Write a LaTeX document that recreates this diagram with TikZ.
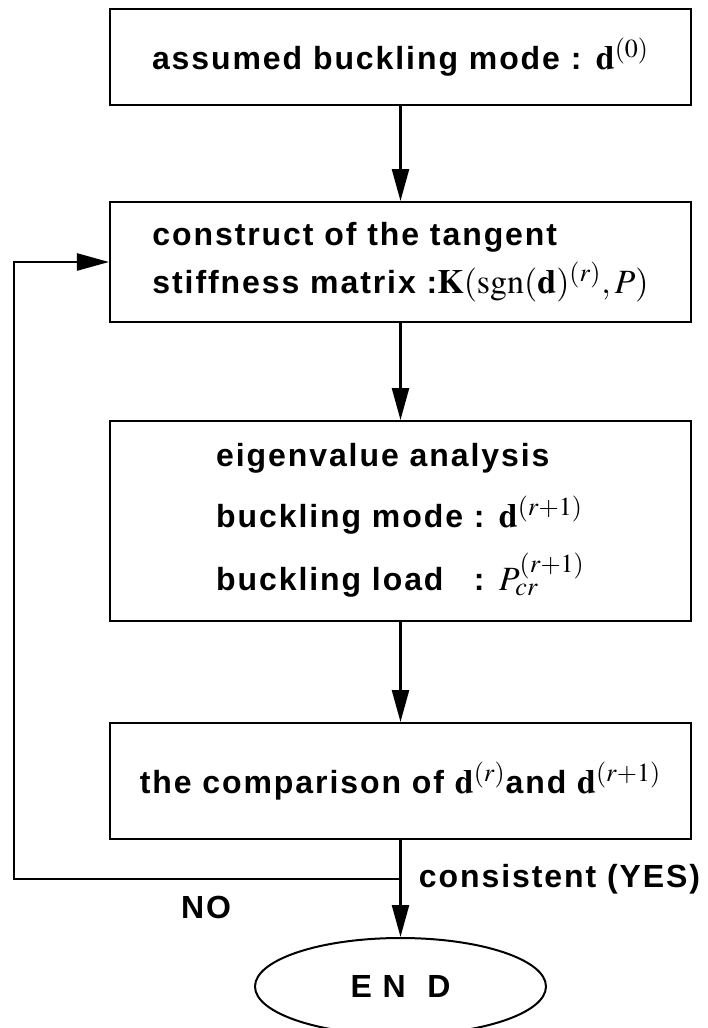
\documentclass[tikz,border=0pt]{standalone}
\usepackage{mathptmx}
\usepackage[no-math]{fontspec}
\setmainfont{Liberation Sans}[LetterSpace=6]
\DeclareMathSizes{16}{17}{13}{10}
\usetikzlibrary{arrows.meta,positioning,calc,shapes.geometric}

\begin{document}
\begin{tikzpicture}[font=\fontsize{16}{19}\selectfont\bfseries,
  bx/.style={draw,line width=1pt,minimum width=290.5pt,align=left,inner sep=4pt},
  ar/.style={-{Triangle[length=16pt,width=8.5pt]},line width=1.2pt}]
\useasboundingbox (-200.25pt,28.5pt) rectangle (153.25pt,-485.5pt);
\node[bx,minimum height=48pt] (asm) at (0,0) {assumed buckling mode : $\mathbf{d}^{(0)}$};
\node[bx,minimum height=60pt,below=47.5pt of asm] (tan) {construct of the tangent\\[4pt]stiffness matrix :$\mathbf{K}(\mathrm{sgn}(\mathbf{d})^{(r)},P)$};
\node[bx,minimum height=100pt,below=48.5pt of tan] (eig) {\begin{tabular}{@{}l@{}l@{}}
  \multicolumn{2}{@{}l@{}}{eigenvalue analysis}\\[9pt]
  buckling mode & ~: $\mathbf{d}^{(r+1)}$\\[7pt]
  buckling load & ~: $P_{cr}^{(r+1)}$
  \end{tabular}};
\node[bx,minimum height=58pt,below=50pt of eig] (cmp) {the comparison of $\mathbf{d}^{(r)}$and $\mathbf{d}^{(r+1)}$};
\node[draw,ellipse,line width=1pt,minimum width=145.5pt,minimum height=48.5pt,inner sep=0pt,below=48.5pt of cmp] (fin) {E N \ D};
\coordinate (j) at ($(cmp.south)+(0,-19.5pt)$);
\coordinate (lp) at ($(j)+(-193.25pt,0)$);
\draw[ar] (asm)--(tan); \draw[ar] (tan)--(eig); \draw[ar] (eig)--(cmp);
\draw[ar] (cmp)--(fin);
\draw[ar] (j) -- (lp) |- (tan.west);
\node[anchor=west] (yes) at ($(j)+(5.7pt,0)$) {consistent (YES)};
\node (no) at ($(j)+(-97.25pt,-14pt)$) {NO};
\end{tikzpicture}
\end{document}
